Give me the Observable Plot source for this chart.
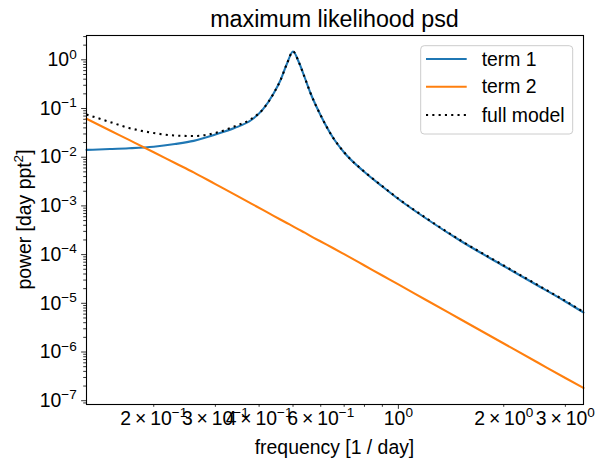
<!DOCTYPE html>
<html>
<head>
<meta charset="utf-8">
<script src="https://cdn.jsdelivr.net/npm/d3@7"></script>
<script src="https://cdn.jsdelivr.net/npm/@observablehq/plot@0.6"></script>
<style>
  body { margin: 0; background: #fff; }
  #chart svg { font-family: "Liberation Sans", Arial, sans-serif; display: block; }
</style>
</head>
<body>
<div id="chart"></div>
<script>
// Frequency grid [1 / day]
const frequency = [0.1285, 0.15, 0.17, 0.2, 0.23, 0.26, 0.3, 0.34, 0.38, 0.41, 0.44, 0.46, 0.48, 0.5,
  0.52, 0.54, 0.56, 0.6, 0.65, 0.7, 0.8, 0.9, 1.0, 1.2, 1.5, 2.0, 2.5, 3.0, 3.38];

// Power spectral density of each component [day ppt^2]
const term1 = [0.01414, 0.01468, 0.01525, 0.01645, 0.01866, 0.02165, 0.02924, 0.03964, 0.05802, 0.0956,
  0.2032, 0.3758, 0.8197, 1.481, 0.88, 0.433, 0.2131, 0.0718, 0.02538, 0.01249, 0.004966, 0.002503,
  0.001386, 5.51e-4, 1.948e-4, 5.83e-5, 2.32e-5, 1.089e-5, 6.47e-6];
const term2 = [0.06144, 0.03534, 0.02265, 0.01267, 0.0076, 0.004874, 0.002803, 0.00173, 0.001115,
  8.28e-4, 6.26e-4, 5.257e-4, 4.456e-4, 3.812e-4, 3.262e-4, 2.817e-4, 2.432e-4, 1.858e-4, 1.366e-4,
  1.019e-4, 5.97e-5, 3.722e-5, 2.444e-5, 1.169e-5, 4.76e-6, 1.495e-6, 6.09e-7, 2.924e-7, 1.823e-7];
const fullModel = [0.0753, 0.0528, 0.0398, 0.0314, 0.0279, 0.02724, 0.0314, 0.0427, 0.0609, 0.0954,
  0.2038, 0.3763, 0.8201, 1.4814, 0.8803, 0.4333, 0.2133, 0.072, 0.02552, 0.01259, 0.005026, 0.00254,
  0.00141, 5.63e-4, 1.995e-4, 5.98e-5, 2.38e-5, 1.118e-5, 6.65e-6];

const seriesNames = ["term 1", "term 2", "full model"];
const seriesColors = ["#1f77b4", "#ff7f0e", "#000000"];

// Axis ticks and their labels ("^" marks a superscript)
const yMajorTicks = [1, 1e-1, 1e-2, 1e-3, 1e-4, 1e-5, 1e-6, 1e-7];
const yTickLabels = ["10^0", "10^\u22121", "10^\u22122", "10^\u22123", "10^\u22124", "10^\u22125", "10^\u22126", "10^\u22127"];
const xLabeledTicks = [0.2, 0.3, 0.4, 0.6, 1, 2, 3];
const xTickLabels = ["2\u2009\u00d7\u200910^\u22121", "3\u2009\u00d7\u200910^\u22121", "4\u2009\u00d7\u200910^\u22121",
  "6\u2009\u00d7\u200910^\u22121", "10^0", "2\u2009\u00d7\u200910^0", "3\u2009\u00d7\u200910^0"];

const titleText = "maximum likelihood psd";
const xLabelText = "frequency [1 / day]";
const yLabelText = "power [day ppt^2]";

const rows = frequency.map((f, i) => ({f, term1: term1[i], term2: term2[i], full: fullModel[i]}));
const xTickRows = xLabeledTicks.map((v, i) => ({v, label: xTickLabels[i]}));

// minor ticks: 2..9 times each power of ten
const minorTicks = (lo, hi) => {
  const out = [];
  for (let e = lo; e <= hi; e++) for (let m = 2; m <= 9; m++) out.push(+(m * 10 ** e).toPrecision(6));
  return out;
};
const xDomain = [0.1285, 3.38];
const yDomain = [8.36e-8, 3.155];
const yMinor = minorTicks(-8, 0).filter(v => v >= yDomain[0] && v <= yDomain[1]);
const xMinor = minorTicks(-1, 0).filter(v => v >= xDomain[0] && v <= xDomain[1]);
const near = (a, b) => Math.abs(a / b - 1) < 1e-6;
const yLabel = d => {
  const i = yMajorTicks.findIndex(t => near(t, d));
  return i < 0 ? "" : yTickLabels[i];
};

const W = 604, H = 469;
const M = {left: 86, right: 21, top: 35, bottom: 65};
const FS = 19.4;      // body text size
const FS_TITLE = 23.3;

const chart = Plot.plot({
  width: W,
  height: H,
  marginLeft: M.left,
  marginRight: M.right,
  marginTop: M.top,
  marginBottom: M.bottom,
  style: {fontFamily: "Liberation Sans, Arial, sans-serif", fontSize: FS + "px", color: "#000"},
  x: {type: "log", domain: xDomain, label: null},
  y: {type: "log", domain: yDomain, label: null},
  marks: [
    // tick marks
    Plot.axisY(yMinor, {tickSize: 2.8, text: null, label: null, strokeWidth: 0.8}),
    Plot.axisY(yMajorTicks, {tickSize: 4.9, text: null, label: null, strokeWidth: 0.8}),
    Plot.axisX(xMinor, {tickSize: 2.8, text: null, label: null, strokeWidth: 0.8}),
    Plot.axisX([1], {tickSize: 4.9, text: null, label: null, strokeWidth: 0.8}),
    // tick labels
    Plot.axisY(yMajorTicks, {tickSize: 4.9, tickPadding: 4.9, label: null, stroke: null, tickFormat: yLabel}),
    Plot.text(xTickRows, {x: "v", text: "label", frameAnchor: "bottom", lineAnchor: "top", dy: 6.5,
      fontSize: FS, fill: "#000"}),
    // curves
    Plot.line(rows, {x: "f", y: "term1", stroke: seriesColors[0], strokeWidth: 2.08, curve: "monotone-x"}),
    Plot.line(rows, {x: "f", y: "term2", stroke: seriesColors[1], strokeWidth: 2.08, curve: "monotone-x"}),
    Plot.line(rows, {x: "f", y: "full", stroke: seriesColors[2], strokeWidth: 2.08, curve: "monotone-x",
      strokeDasharray: "2.1,4.2", strokeLinecap: "butt"}),
    Plot.frame({stroke: "#000", strokeWidth: 1.1})
  ]
});

document.getElementById("chart").appendChild(chart);

// render "^" as a raised, smaller superscript
function superscript(textEl) {
  const raw = textEl.textContent;
  const k = raw.indexOf("^");
  if (k < 0) return;
  textEl.textContent = "";
  const sel = d3.select(textEl);
  sel.append("tspan").text(raw.slice(0, k));
  const rest = raw.slice(k + 1);
  const m = rest.match(/^([^\]\s]*)(.*)$/);
  sel.append("tspan").attr("font-size", "70%").attr("dy", "-0.55em").text(m[1]);
  if (m[2]) sel.append("tspan").attr("dy", "0.385em").text(m[2]);
}
d3.select(chart).selectAll("text").each(function() { superscript(this); });

const svg = d3.select(chart);
const frameL = M.left, frameR = W - M.right, frameT = M.top, frameB = H - M.bottom;

// title
svg.append("text")
  .attr("x", (frameL + frameR) / 2).attr("y", frameT - 8.3)
  .attr("text-anchor", "middle").attr("font-size", FS_TITLE).attr("fill", "#000")
  .text(titleText);

// x label
svg.append("text")
  .attr("x", (frameL + frameR) / 2).attr("y", 454)
  .attr("text-anchor", "middle").attr("font-size", FS).attr("fill", "#000")
  .text(xLabelText);

// y label
const yl = svg.append("text")
  .attr("transform", `translate(30.5,${(frameT + frameB) / 2}) rotate(-90)`)
  .attr("text-anchor", "middle").attr("font-size", FS).attr("fill", "#000")
  .text(yLabelText);
superscript(yl.node());

// legend
const lg = svg.append("g");
lg.append("rect")
  .attr("x", 420.7).attr("y", 45.7).attr("width", 152).attr("height", 88.3)
  .attr("rx", 3.5).attr("fill", "#fff").attr("fill-opacity", 0.8)
  .attr("stroke", "#cccccc").attr("stroke-width", 1);
const legendY = [59, 86.7, 115];
seriesNames.forEach((name, i) => {
  lg.append("line")
    .attr("x1", 426).attr("x2", 466.7).attr("y1", legendY[i]).attr("y2", legendY[i])
    .attr("stroke", seriesColors[i]).attr("stroke-width", 2.08)
    .attr("stroke-dasharray", i === 2 ? "2.1,4.2" : null);
  lg.append("text")
    .attr("x", 481.7).attr("y", legendY[i]).attr("dy", "0.35em")
    .attr("text-anchor", "start")
    .attr("font-size", FS).attr("fill", "#000")
    .text(name);
});
</script>
</body>
</html>
